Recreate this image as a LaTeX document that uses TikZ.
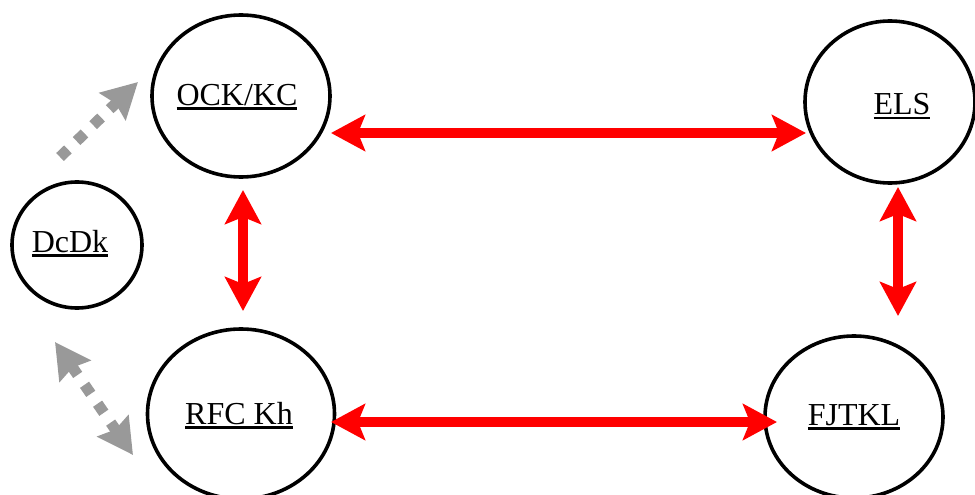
\documentclass[tikz,border=0pt]{standalone}
\usepackage{fontspec}
\setmainfont{Liberation Serif}
\usetikzlibrary{arrows.meta,shapes.geometric,calc}
\definecolor{linkgray}{RGB}{153,153,153}
\newsavebox\ulbox
% underlined label with a heavier rule
\newcommand{\undl}[1]{\leavevmode\sbox\ulbox{#1}\rlap{\rule[-4.6pt]{\wd\ulbox}{2.6pt}}\usebox\ulbox}
\tikzset{
  bubble/.style={ellipse, draw=black, line width=3.6pt, inner sep=0pt},
  lab/.style={inner sep=0pt, text height=22pt, text depth=5pt, font=\fontsize{32}{38}\selectfont},
  redtip/.tip={Stealth[length=34pt,width=36pt,inset=7pt]},
  redarrow/.style={draw=red, line width=10.5pt, redtip-redtip},
  graytip/.tip={Stealth[length=35pt,width=37pt,inset=4pt]},
  grayarrow/.style={draw=linkgray, line width=11pt, dash pattern=on 11pt off 12pt}
}
\begin{document}
\begin{tikzpicture}[x=1pt,y=-1pt]
  \useasboundingbox (0,0) rectangle (975,495);

  % entities
  \node[bubble, minimum width=178pt, minimum height=162pt,
        label={[lab, xshift=-4pt, yshift=-0.5pt]center:\undl{OCK/KC}}] (ock) at (241,96) {};
  \node[bubble, minimum width=170pt, minimum height=162pt,
        label={[lab, xshift=12pt, yshift=-4pt]center:\undl{ELS}}] (els) at (890,102) {};
  \node[bubble, minimum width=130pt, minimum height=126pt,
        label={[lab, xshift=-7pt, yshift=1.5pt]center:\undl{DcDk}}] (dcdk) at (77,245) {};
  \node[bubble, minimum width=187pt, minimum height=170pt,
        label={[lab, xshift=-2pt, yshift=-1.5pt]center:\undl{RFC Kh}}] (rfc) at (241,414) {};
  \node[bubble, minimum width=178pt, minimum height=162pt,
        label={[lab, xshift=0pt, yshift=0.5pt]center:\undl{FJTKL}}] (fjtkl) at (854,417) {};

  % two-way links
  \draw[redarrow] ($(ock.center)+(90,37)$) -- ($(els.center)+(-84,31)$);
  \draw[redarrow] ($(ock.center)+(2,94)$) -- ($(rfc.center)+(2,-103)$);
  \draw[redarrow] ($(els.center)+(8,85)$) -- ($(fjtkl.center)+(44,-101)$);
  \draw[redarrow] ($(rfc.center)+(90,8)$) -- ($(fjtkl.center)+(-77,5)$);

  % dotted links from the side entity
  \draw[grayarrow, -graytip] ($(dcdk.center)+(-17,-88)$) -- ($(ock.center)+(-103,-14)$);
  \draw[grayarrow, graytip-graytip] ($(dcdk.center)+(-22,97)$) -- ($(rfc.center)+(-108,41)$);
\end{tikzpicture}
\end{document}
